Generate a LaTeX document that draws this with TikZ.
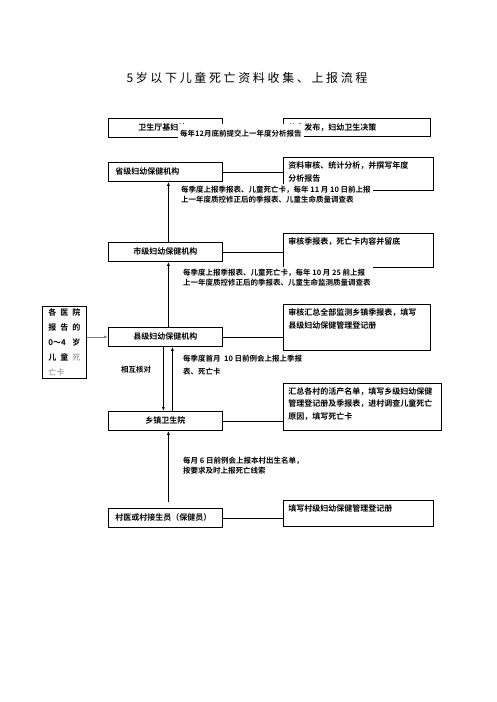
\documentclass[tikz,border=0pt]{standalone}
\usepackage{fontspec}
\setmainfont{Noto Sans CJK SC}[BoldFont={Noto Sans CJK SC Bold}]
\newfontfamily\titlefont{Noto Sans CJK SC}[LetterSpace=22]
\usetikzlibrary{arrows.meta}
\newcommand{\notetext}[3]{\parbox[t][#1][t]{#2}{#3}}
\begin{document}
\begin{tikzpicture}[x=1pt,y=-1pt,
	box/.style={draw,line width=0.8pt,anchor=north west,minimum width=114pt,minimum height=19pt,inner sep=0pt,font=\fontsize{8}{10}\selectfont\bfseries},
	leftbox/.style={box,align=left,text width=102pt},
	note/.style={draw,line width=0.8pt,anchor=north west,inner xsep=5pt,inner ysep=4pt,align=left,font=\fontsize{8}{12.7}\selectfont\bfseries},
	lbl/.style={fill=white,inner sep=2pt,align=left,anchor=north west,font=\fontsize{7.5}{10}\selectfont\bfseries},
	arr/.style={line width=0.8pt,-{Latex[length=4pt,width=3pt]}},
	link/.style={line width=0.8pt}]
	\useasboundingbox (0,0) rectangle (496,702);
	\node at (247,78) (title) {\titlefont\fontsize{12}{14}\selectfont 5岁以下儿童死亡资料收集、上报流程};
	% boxes
	\node[box] at (108,118) (hlth) {\hspace*{-6pt}卫生厅基妇处};
	\node[note,inner ysep=0pt,minimum height=18pt,text width=137pt] at (283,118) (pub) {信息发布，妇幼卫生决策};
	\node[leftbox] at (108,162) (prov) {\hspace*{1pt}省级妇幼保健机构};
	\node[note] at (283,157) (provnote) {\notetext{25pt}{140pt}{资料审核、统计分析，并撰写年度\\分析报告}};
	\node[box] at (108,242) (city) {市级妇幼保健机构};
	\node[note] at (283,233) (citynote) {\notetext{26pt}{140pt}{审核季报表，死亡卡内容并留底}};
	\node[box] at (108,327) (county) {县级妇幼保健机构};
	\node[note] at (283,304) (countynote) {\notetext{38pt}{137pt}{审核汇总全部监测乡镇季报表，填写\\县级妇幼保健管理登记册}};
	\node[draw,line width=0.8pt,anchor=north west,minimum width=44pt,minimum height=72pt,inner sep=0pt,align=left,font=\fontsize{8}{15}\selectfont\bfseries] at (42,306) (hosp) {\makebox[32pt][s]{各\hfill 医\hfill 院}\\\makebox[32pt][s]{报\hfill 告\hfill 的}\\\makebox[32pt][s]{0～4\hfill 岁}\\\makebox[32pt][s]{儿\hfill 童\hfill \textcolor{gray}{\mdseries 死}}\\\makebox[32pt][l]{\textcolor{gray}{\mdseries 亡卡}}};
	\node[box] at (108,411) (town) {乡镇卫生院};
	\node[note] at (283,383) (townnote) {\notetext{39pt}{148pt}{汇总各村的活产名单，填写乡级妇幼保健\\管理登记册及季报表，进村调查儿童死亡\\原因，填写死亡卡}};
	\node[leftbox] at (108,508) (village) {\hspace*{1pt}村医或村接生员（保健员）};
	\node[note] at (283,500) (villagenote) {\notetext{18pt}{140pt}{填写村级妇幼保健管理登记册}};
	% connectors
	\draw[link] (prov.east) -- (provnote.west |- prov.east);
	\draw[link] (city.east) -- (citynote.west |- city.east);
	\draw[link] (county.east) -- (countynote.west |- county.east);
	\draw[link] (town.east) -- (townnote.west |- town.east);
	\draw[link] (village.east) -- (villagenote.west |- village.east);
	\draw[arr] ([xshift=3pt]city.north) -- ([xshift=3pt]prov.south);
	\draw[arr] ([xshift=3pt]county.north) -- ([xshift=3pt]city.south);
	\draw[arr] ([xshift=-2pt]county.south) -- ([xshift=-2pt]town.north);
	\draw[arr] ([xshift=7pt]town.north) -- ([xshift=7pt]county.south);
	\draw[arr,shorten <=6pt] ([xshift=3pt]village.north) -- ([xshift=3pt]town.south);
	\draw[arr,gray] (hosp.east |- county.west) -- (county.west);
	% labels
	\node[lbl,anchor=west,inner ysep=6pt] at (178,134) (lbltop) {每年12月底前提交上一年度分析报告};
	\node[lbl] at (179,184) (lblprov) {每季度上报季报表、儿童死亡卡，每年 11 月 10 日前上报\\上一年度质控修正后的季报表、儿童生命质量调查表};
	\node[lbl] at (181,267) (lblcity) {每季度上报季报表、儿童死亡卡，每年 10 月 25 前上报\\上一年度质控修正后的季报表、儿童生命监测质量调查表};
	\node[lbl,font=\fontsize{7.5}{12.5}\selectfont\bfseries] at (181,353) (lblcounty) {每季度首月\ \ 10 日前例会上报上季报\\表、死亡卡};
	\node[font=\fontsize{7.5}{10}\selectfont\bfseries] at (136,370) (lblcheck) {相互核对};
	\node[lbl] at (181,455) (lbltown) {每月 6 日前例会上报本村出生名单，\\按要求及时上报死亡线索};
\end{tikzpicture}
\end{document}
